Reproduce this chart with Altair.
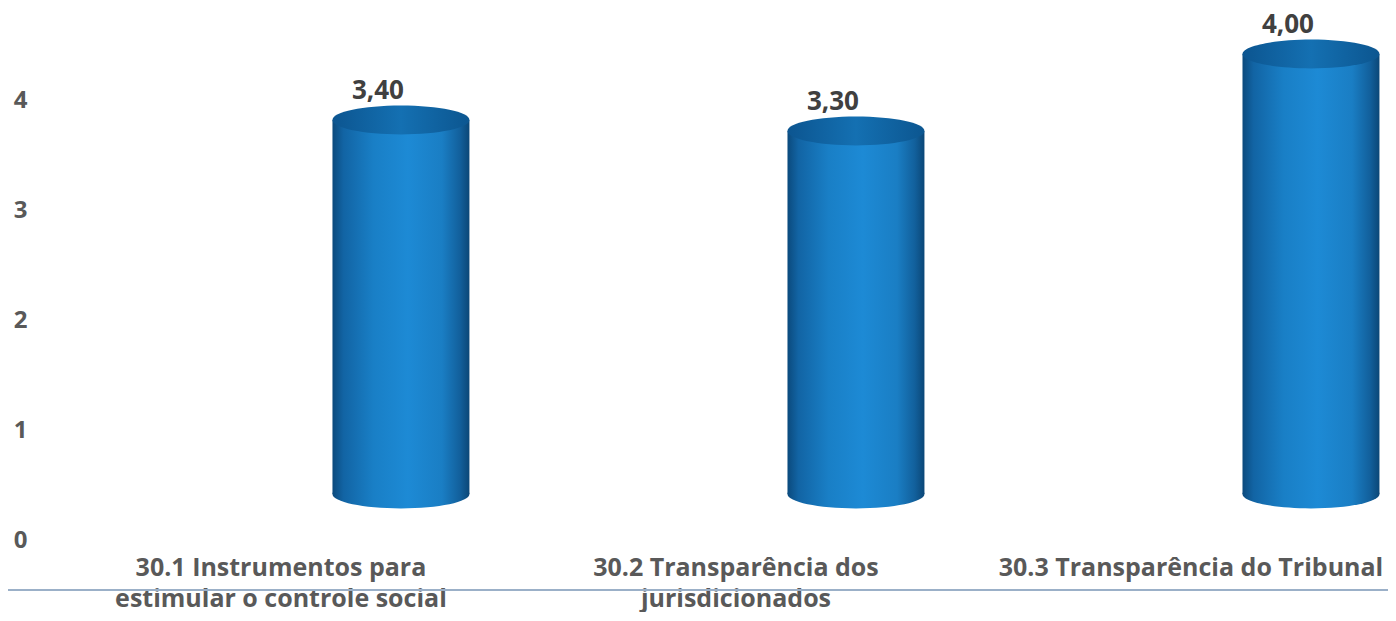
import altair as alt
import pandas as pd

categories = [
    "30.1 Instrumentos para\nestimular o controle social",
    "30.2 Transparência dos\njurisdicionados",
    "30.3 Transparência do Tribunal",
]
values = [3.40, 3.30, 4.00]
y_ticks = [0, 1, 2, 3, 4]

df = pd.DataFrame({
    "categoria": categories,
    "valor": values,
    "zero": [0] * len(values),
    "rotulo": [f"{v:.2f}".replace(".", ",") for v in values],
})

FONT = "Open Sans"
TXT = "#595959"

body_grad = alt.LinearGradient(
    gradient="linear", x1=0, x2=1, y1=0, y2=0,
    stops=[
        alt.GradientStop(offset=0.0, color="#0b4a7d"),
        alt.GradientStop(offset=0.08, color="#1264a4"),
        alt.GradientStop(offset=0.3, color="#197fc6"),
        alt.GradientStop(offset=0.55, color="#1d8ad5"),
        alt.GradientStop(offset=0.8, color="#1a7ec4"),
        alt.GradientStop(offset=0.93, color="#12609c"),
        alt.GradientStop(offset=1.0, color="#0b4777"),
    ],
)
top_grad = alt.LinearGradient(
    gradient="linear", x1=0, x2=1, y1=0, y2=0,
    stops=[
        alt.GradientStop(offset=0.0, color="#0c5590"),
        alt.GradientStop(offset=0.5, color="#1470b2"),
        alt.GradientStop(offset=1.0, color="#0c5690"),
    ],
)

ELLIPSE = "M-1,0A1,0.21,0,1,0,1,0A1,0.21,0,1,0,-1,0Z"
SHIFT = -46

x_enc = alt.X(
    "categoria:N", sort=categories,
    scale=alt.Scale(paddingInner=0.699, paddingOuter=0.3132, align=0.97),
    axis=alt.Axis(
        title=None, ticks=False, domain=False, grid=False, labelAngle=0,
        labelExpr="split(datum.label, '\\n')", labelOffset=-120,
        labelFont=FONT, labelFontSize=25, labelFontWeight="bold", labelColor=TXT,
        labelPadding=15, labelLineHeight=31, labelLimit=0, labelBaseline="top",
    ),
)
y_scale = alt.Scale(domain=[0, 4.6], nice=False, zero=True)
y_enc = alt.Y(
    "valor:Q", scale=y_scale,
    axis=alt.Axis(
        title=None, values=y_ticks, format="d", ticks=False, domain=False, grid=False,
        labelFont=FONT, labelFontSize=24, labelFontWeight="bold", labelColor=TXT,
        labelPadding=29,
    ),
)

base = alt.Chart(df)

bottom = base.mark_point(
    shape=ELLIPSE, size=137 * 137, fill=body_grad, filled=True, strokeWidth=0,
    opacity=1, yOffset=SHIFT,
).encode(x=x_enc, y=alt.Y("zero:Q", scale=y_scale))

body = base.mark_bar(fill=body_grad, yOffset=SHIFT, y2Offset=SHIFT).encode(
    x=x_enc, y=y_enc, y2=alt.Y2("zero:Q")
)

top = base.mark_point(
    shape=ELLIPSE, size=137 * 137, fill=top_grad, filled=True, strokeWidth=0,
    opacity=1, yOffset=SHIFT,
).encode(x=x_enc, y=alt.Y("valor:Q", scale=y_scale))

labels = base.mark_text(
    font=FONT, fontSize=26, fontWeight="bold", color="#404040",
    baseline="middle", align="center", dx=-23, dy=-29, yOffset=SHIFT,
).encode(x=x_enc, y=alt.Y("valor:Q", scale=y_scale), text="rotulo:N")

line = alt.Chart(df).mark_rule(color="#9bb0c8", strokeWidth=2).encode(
    x=alt.value(-48), x2=alt.value(1332), y=alt.value(556)
)

chart = alt.layer(line, bottom, body, top, labels).properties(
    width=1332, height=506, autosize="none", background="white",
    padding={"left": 48, "top": 26, "right": 0, "bottom": 72},
).configure_view(strokeWidth=0, stroke=None)

chart.save("out.html", embed_options={"renderer": "svg", "actions": False})
